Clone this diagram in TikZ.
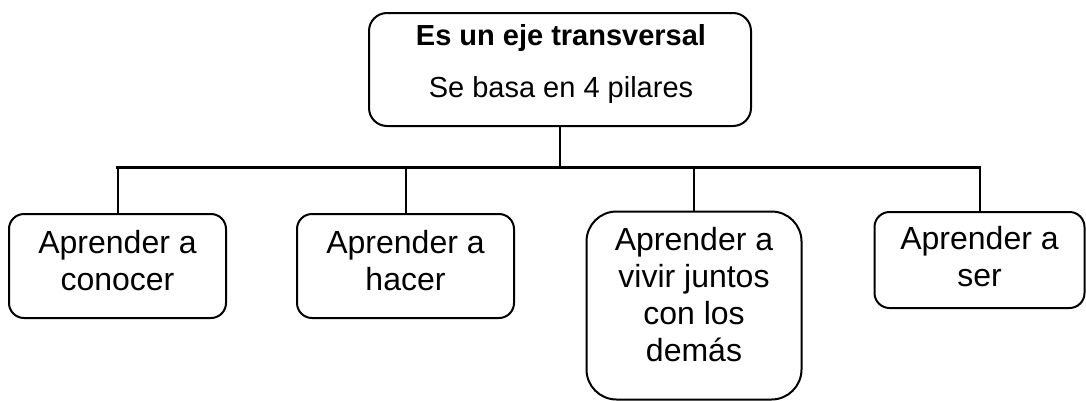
\documentclass[tikz,border=0pt]{standalone}
\usepackage{fontspec}
\setmainfont{Liberation Sans}
\begin{document}
\begin{tikzpicture}[x=1pt,y=-1pt,
  boxshape/.style={draw=black, line width=2pt, fill=white, rectangle, inner sep=0pt, anchor=north},
  pillartext/.style={align=center, inner sep=0pt, anchor=north, font=\fontsize{32}{37}\selectfont},
  toptext/.style={align=center, inner sep=0pt, anchor=north, font=\fontsize{29}{52}\selectfont},
  drop/.style={line width=2pt},
  trunk/.style={line width=2.75pt}]
\useasboundingbox (0,0) rectangle (1086,400);
% top box
\node[boxshape, rounded corners=18pt, minimum width=382pt, minimum height=113pt] (top) at (560,12) {};
\node[toptext] (ttop) at (561,24) {\textbf{Es un eje transversal}\\Se basa en 4 pilares};
% pillar boxes
\node[boxshape, rounded corners=15pt, minimum width=217pt, minimum height=104pt] (b1) at (117.5,213) {};
\node[pillartext] (t1) at (117.5,229.7) {Aprender a\\conocer};
\node[boxshape, rounded corners=15pt, minimum width=217pt, minimum height=104pt] (b2) at (405.5,213) {};
\node[pillartext] (t2) at (405.5,229.7) {Aprender a\\hacer};
\node[boxshape, rounded corners=30pt, minimum width=215pt, minimum height=188pt] (b3) at (694,210.5) {};
\node[pillartext] (t3) at (694,227.3) {Aprender a\\vivir juntos\\con los\\demás};
\node[boxshape, rounded corners=15pt, minimum width=210pt, minimum height=96pt] (b4) at (979.5,211) {};
\node[pillartext] (t4) at (979.5,225.7) {Aprender a\\ser};
% connectors
\coordinate (bus) at (560,167.5);
\draw[trunk] (top.south) -- (top.south |- bus);
\draw[trunk, line cap=rect] (b1.north |- bus) -- (b4.north |- bus);
\draw[drop] (b1.north |- bus) -- (b1.north);
\draw[drop] (b2.north |- bus) -- (b2.north);
\draw[drop] (b3.north |- bus) -- (b3.north);
\draw[drop] (b4.north |- bus) -- (b4.north);
\end{tikzpicture}
\end{document}
